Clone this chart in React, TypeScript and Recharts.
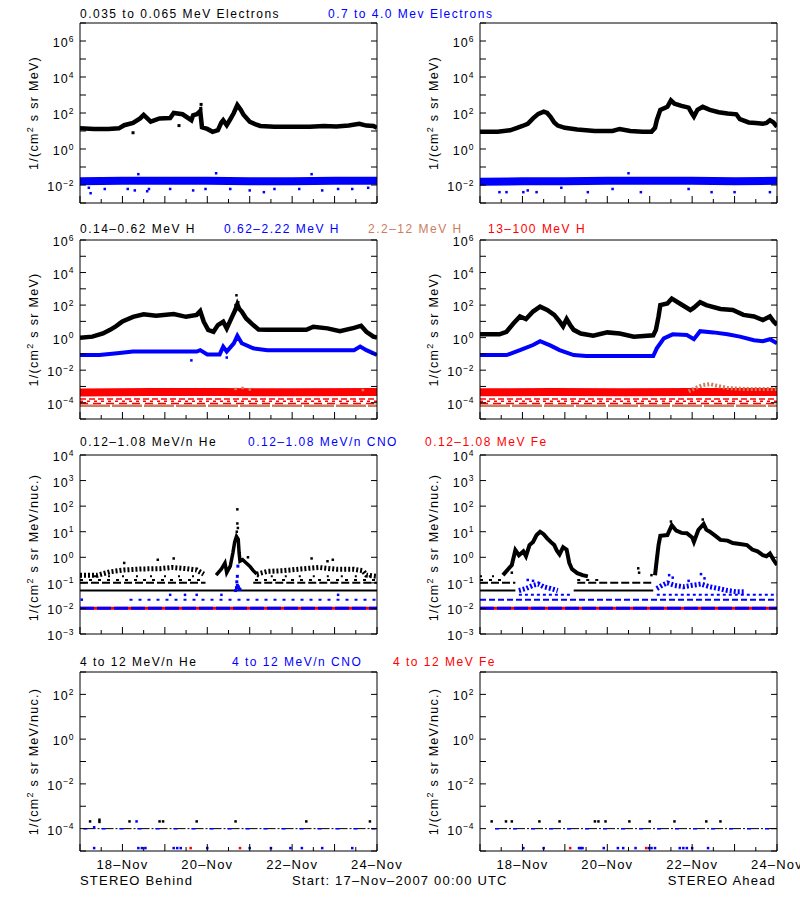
import React from "react";
import { ComposedChart, Line, Scatter, XAxis, YAxis } from "recharts";

type P = [number, number | null][];

// time axis, hours since 17-Nov-2007 00:00 UTC
const hourTicks = [0, 12, 24, 36, 48, 60, 72, 84, 96, 108, 120, 132, 144, 156, 168];
const dayHours = [24, 72, 120, 168];
const dayNames = ["18–Nov", "20–Nov", "22–Nov", "24–Nov"];

// rows: plot top, plot height, decade range, label step
const rowTops = [23, 240, 455, 672];
const rowHeights = [180, 179, 179, 179];
const rowExps: [number, number][] = [[-3, 7], [-5, 6], [-3, 4], [-5, 3]];
const rowLabelStep = [2, 2, 1, 2];
const rowUnits = ["MeV)", "MeV)", "MeV/nuc.)", "MeV/nuc.)"];
const rowUnitShift = [0, 0, 3, 0];

const BLK = "#000000";
const BLU = "#0000ff";
const RED = "#ff0000";
const ROSY = "#cc7d5e";
const FONT = "'Liberation Sans', Arial, sans-serif";

const titles: [number, string, string][][] = [
  [[80, BLK, "0.035 to 0.065 MeV Electrons"], [328, BLU, "0.7 to 4.0 Mev Electrons"]],
  [[80, BLK, "0.14–0.62 MeV H"], [224, BLU, "0.62–2.22 MeV H"], [368, ROSY, "2.2–12 MeV H"], [488, RED, "13–100 MeV H"]],
  [[80, BLK, "0.12–1.08 MeV/n He"], [248, BLU, "0.12–1.08 MeV/n CNO"], [425, RED, "0.12–1.08 MeV Fe"]],
  [[80, BLK, "4 to 12 MeV/n He"], [232, BLU, "4 to 12 MeV/n CNO"], [393, RED, "4 to 12 MeV Fe"]],
];
const titleBase = [18, 233, 446, 666];

// ---- row 1: electrons
const behindLoE: P = [[0, 14], [8, 13], [16, 13], [22, 14], [25, 21], [30, 28], [34, 50], [36, 78], [40, 33], [45, 50], [51, 52], [53, 100], [58, 85], [63, 40], [64, 75], [66, 85], [68, 130], [69, 16], [72, 13], [75, 9], [78, 11], [80, 30], [81, 40], [83, 21], [85, 45], [87, 100], [89, 280], [91, 150], [92.5, 80], [96, 33], [99, 24], [102, 19], [110, 17], [120, 17], [130, 17], [138, 19], [145, 18], [152, 20], [158, 25], [162, 20], [166, 19], [168, 15]];
const behindLoEOut: P = [[68.5, 300], [68.3, 180], [56, 20], [30, 8]];
const behindHiE: P = [[0, 0.016], [24, 0.017], [48, 0.017], [72, 0.017], [96, 0.016], [120, 0.016], [144, 0.017], [168, 0.017]];
const behindHiEOut: P = [[5, 0.007], [6, 0.0035], [14, 0.006], [27, 0.006], [31, 0.005], [38, 0.0045], [39, 0.006], [51, 0.006], [64, 0.005], [71, 0.006], [85, 0.006], [96, 0.005], [104, 0.004], [110, 0.006], [124, 0.006], [137, 0.005], [146, 0.006], [154, 0.006], [163, 0.007], [33, 0.04], [77, 0.045], [131, 0.04]];

const aheadLoE: P = [[0, 9], [10, 9], [17, 11], [21, 15], [24, 19], [27, 25], [30, 50], [33, 90], [36, 120], [38, 100], [40, 60], [42, 30], [44, 20], [48, 15], [55, 12], [65, 10], [75, 10], [79, 13], [85, 10], [92, 9], [97, 9], [99, 15], [100, 40], [102, 150], [106, 220], [108, 500], [110, 330], [114, 250], [118, 200], [120, 90], [121, 63], [123, 150], [126, 220], [130, 150], [135, 110], [140, 95], [145, 85], [147, 45], [152, 30], [156, 28], [160, 25], [162, 28], [164, 40], [166, 30], [168, 17]];
const aheadHiE: P = [[0, 0.015], [24, 0.016], [48, 0.016], [72, 0.017], [96, 0.017], [120, 0.017], [144, 0.016], [168, 0.017]];
const aheadHiEOut: P = [[11, 0.004], [15, 0.004], [24.5, 0.004], [27, 0.005], [32, 0.004], [46, 0.007], [61, 0.004], [75, 0.006], [91, 0.004], [118, 0.006], [131, 0.004], [144, 0.004], [164, 0.004], [84, 0.045]];

// ---- row 2: protons
const behindH1: P = [[0, 1.0], [7, 1.15], [13, 1.8], [17, 3], [20, 4.7], [22.5, 7.5], [24, 10], [30, 19], [36, 27], [43, 22], [53, 28], [60, 19], [66, 25], [68, 43], [70, 9.5], [72.5, 3], [75.5, 2.3], [78, 5.9], [81, 9.5], [83, 3.7], [86, 19], [88, 55], [89, 110], [90, 60], [91.5, 40], [94, 15], [98, 5.9], [101, 3.2], [106, 3], [118, 3], [128, 3], [132, 4.7], [140, 3.7], [147, 2.5], [155, 4], [159, 5.4], [162, 2.3], [166, 1.15], [168, 1.0]];
const behindH1Out: P = [[88.5, 400], [88, 100], [89.5, 150]];
const behindH2: P = [[0, 0.085], [11, 0.085], [21, 0.11], [30, 0.14], [49, 0.14], [66, 0.14], [68, 0.17], [72, 0.093], [79, 0.093], [81, 0.28], [83, 0.14], [87, 0.45], [89, 1.3], [91.5, 0.45], [98, 0.22], [106, 0.17], [130, 0.17], [155, 0.17], [158.5, 0.28], [162, 0.17], [168, 0.085]];
const behindH2Out: P = [[63, 0.04], [83, 0.06]];
const behindH13: P = [[0, 4.3e-4], [40, 4.6e-4], [80, 4.5e-4], [120, 4.4e-4], [168, 4.6e-4]];
const behindH13Low: P = [[0, 1.7e-4], [168, 1.7e-4]];
const behindH13Low2: P = [[0, 1.25e-4], [168, 1.25e-4]];
const behindH13Low3: P = [[0, 9e-5], [168, 9e-5]];
const behindH22: P = [[0, 6.6e-5], [168, 6.6e-5]];
const behindH22Out: P = [[88, 7e-4], [92, 8e-4], [96, 6.5e-4], [160, 6e-4]];

const aheadH1: P = [[0, 1.6], [11, 1.6], [15, 2.3], [19, 7.6], [22.6, 20], [26, 14], [30, 40], [34, 80], [38, 50], [42, 25], [45, 10], [47, 5], [49, 14], [51, 6], [53, 3], [57, 1.8], [64, 1.3], [72, 2.1], [79, 1.8], [87, 1.15], [98, 1.4], [99.5, 3], [101, 20], [102, 100], [106, 125], [108.5, 250], [113, 125], [119, 50], [121, 70], [124.5, 150], [128, 100], [136, 58], [143, 50], [149, 25], [155, 20], [160, 12], [164, 20], [166, 10], [168, 6]];
const aheadH2: P = [[0, 0.085], [15, 0.085], [22.6, 0.17], [30, 0.35], [34, 0.6], [40, 0.32], [45, 0.17], [53, 0.085], [60, 0.074], [98, 0.074], [100, 0.22], [104, 0.9], [109, 1.6], [117, 1.45], [121, 0.8], [124.5, 2.5], [132, 2.1], [140, 1.6], [147, 1.15], [155, 0.7], [160, 0.6], [164, 0.8], [168, 0.45]];
const aheadH13: P = [[0, 4.4e-4], [40, 4.5e-4], [80, 4.4e-4], [120, 4.6e-4], [168, 4.6e-4]];
const aheadH22: P = [[118, 5e-4], [122, 8e-4], [126, 1.2e-3], [130, 1.4e-3], [134, 1.1e-3], [140, 8e-4], [150, 7e-4], [160, 7e-4], [168, 7e-4]];

// ---- row 3: 0.12-1.08 MeV/n ions
const behindHe05: P = [[0, 0.05], [168, 0.05]];
const behindHe10: P = [[0, 0.1], [71, 0.1], [72, null], [98, 0.1], [168, 0.1]];
const behindHe13: P = [[0, 0.13], [70, 0.13], [71, null], [99, 0.13], [168, 0.13]];
const behindHe18: P = [[0, 0.18], [68, 0.18], [69, null], [100, 0.18], [168, 0.18]];
const behindHeCloud: P = [[0, 0.2], [10, 0.2], [17, 0.27], [25, 0.32], [35, 0.35], [45, 0.36], [52, 0.4], [60, 0.36], [66, 0.32], [70, 0.22], [71, null], [100, 0.22], [106, 0.28], [115, 0.3], [125, 0.35], [135, 0.4], [145, 0.34], [155, 0.34], [160, 0.3], [162, 0.2], [168, 0.18]];
const behindHeEvent: P = [[77, 0.2], [80, 0.35], [82, 0.6], [83, 0.25], [85, 0.45], [86.5, 1.5], [87.5, 4], [88.5, 6.5], [89.5, 5], [90, 1.5], [90.5, 0.7], [92, 0.8], [94, 0.6], [96, 0.45], [98, 0.3], [100, 0.22]];
const behindHeOut: P = [[89, 75], [89, 21], [89.3, 14], [88.7, 10], [95, 1], [25, 0.6], [44, 0.8], [53, 0.9], [131, 0.9], [143, 0.8], [140, 0.7]];
const behindCno022: P = [[28, 0.022], [168, 0.022]];
const behindCno034: P = [[1, 0.022], [51, 0.034], [59.4, 0.034], [66, 0.034], [80, 0.034], [146, 0.034]];
const behindCnoSpike: P = [[88, 0.05], [88.5, 0.065], [89, 0.08], [89.3, 0.45], [89, 0.18], [90, 0.06], [88.7, 0.11], [89.6, 0.07], [90.5, 0.055]];
const behindCnoFloor: P = [[0, 0.0102], [168, 0.0102]];
const behindFeFloor: P = [[0, 0.0102], [168, 0.0102]];

const aheadHe05: P = [[0, 0.05], [20, 0.05], [21, null], [53, 0.05], [98, 0.05]];
const aheadHe10: P = [[0, 0.1], [20, 0.1], [21, null], [55, 0.1], [98, 0.1]];
const aheadHe13: P = [[0, 0.13], [15, 0.13], [16, null], [55, 0.13], [68, 0.13]];
const aheadHe18: P = [[0, 0.18], [12, 0.18]];
const aheadHeEvent: P = [[13, 0.2], [16, 0.35], [18, 0.5], [20, 1.9], [22, 1.2], [24.5, 1.7], [26, 1.1], [28, 3], [30, 4], [32, 7.4], [34, 10], [36, 8], [38, 5.5], [40, 4], [42, 3], [43.5, 1.8], [45, 1.3], [47, 2.5], [49, 2], [50.5, 0.6], [52, 0.35], [55, 0.24], [58, 0.2], [61, 0.18], [62, null], [99, 0.2], [100, 0.8], [101, 3], [102, 6.9], [106, 7.4], [108.5, 18], [111, 11], [114, 9], [117, 8.7], [120, 6], [121, 4], [123.5, 11.7], [126.5, 20], [128, 12], [130, 10], [133, 7], [136, 4.8], [140, 4.5], [143, 3.6], [147, 3.3], [151, 3], [154, 2], [157, 1.7], [160, 1.2], [162, 1.1], [164, 1.4], [166, 0.8], [168, 0.5]];
const aheadHeOut: P = [[89.5, 0.37], [90, 0.25], [97, 0.2], [18, 0.25], [53, 0.3], [108, 25], [126, 30]];
const aheadCno034: P = [[22, 0.034], [52, 0.034], [53, null], [100, 0.034], [168, 0.034]];
const aheadCno022: P = [[0, 0.022], [168, 0.022]];
const aheadCnoCloud: P = [[22, 0.05], [26, 0.06], [30, 0.08], [33, 0.09], [36, 0.07], [40, 0.06], [44, 0.05], [45, null], [100, 0.06], [103, 0.08], [106, 0.1], [110, 0.08], [115, 0.07], [120, 0.08], [125, 0.09], [130, 0.07], [135, 0.06], [140, 0.05], [145, 0.045], [150, 0.045]];
const aheadCnoOut: P = [[27, 0.13], [30, 0.12], [107, 0.2], [109, 0.16], [125, 0.22], [127, 0.15], [118, 0.12]];
const aheadCnoFloor: P = [[0, 0.0102], [168, 0.0102]];
const aheadFeFloor: P = [[0, 0.0102], [168, 0.0102]];

// ---- row 4: 4-12 MeV/n ions
const behindLevel4: P = [[2, 1e-4], [168, 1e-4]];
const behindHe4: P = [[5.7, 2.1e-4], [11, 2.5e-4], [11, 2e-4], [28, 2.1e-4], [45, 2.1e-4], [47, 2.1e-4], [66, 2.1e-4], [88, 2.1e-4], [128, 2.1e-4], [164, 2.1e-4]];
const behindCno4: P = [[32, 2.1e-4], [8, 1.15e-4], [8, 1.35e-5], [33, 1.35e-5], [35, 1.35e-5], [37, 1.35e-5], [53, 1.35e-5], [55, 1.35e-5], [57, 1.35e-5], [72, 1.35e-5], [96, 1.35e-5], [108, 1.35e-5], [119, 1.35e-5], [125.5, 1.35e-5], [137, 1.35e-5], [154, 1.35e-5]];
const behindFe4: P = [[62.6, 1.35e-5], [90.5, 1.35e-5]];
const aheadLevel4: P = [[8.5, 1e-4], [168, 1e-4]];
const aheadHe4: P = [[6.6, 2.1e-4], [14.7, 2.1e-4], [18, 2.1e-4], [33.6, 2.1e-4], [45, 2.1e-4], [65, 2.1e-4], [67, 2.1e-4], [71, 2.1e-4], [84.5, 2.1e-4], [96, 2.1e-4], [110, 2.1e-4], [128, 2.1e-4], [136, 2.1e-4]];
const aheadCno4: P = [[24.5, 1.35e-5], [36, 1.35e-5], [56, 1.35e-5], [57, 1.35e-5], [58, 1.35e-5], [70, 1.35e-5], [78, 1.35e-5], [81, 1.35e-5], [88, 1.35e-5], [95.5, 1.35e-5], [97, 1.35e-5], [99, 1.35e-5], [113, 1.35e-5], [115, 1.35e-5], [117, 1.35e-5], [120, 1.35e-5], [129, 1.35e-5]];
const aheadFe4: P = [[51, 1.35e-5], [94, 1.35e-5]];

type S = { d: P; c: string; w?: number; dash?: string; dot?: number };
const ln = (d: P, c: string, w = 4.5, dash?: string): S => ({ d, c, w, dash });
const dt = (d: P, c: string, dot = 2.5): S => ({ d, c, dot });

const panels: S[][][] = [
  [
    [ln(behindHiE, BLU, 8), dt(behindHiEOut, BLU), ln(behindLoE, BLK), dt(behindLoEOut, BLK, 3)],
    [ln(aheadHiE, BLU, 8), dt(aheadHiEOut, BLU), ln(aheadLoE, BLK)],
  ],
  [
    [ln(behindH22, ROSY, 2.5, "30 2"), ln(behindH13Low3, RED, 1.5, "8 5"), ln(behindH13Low2, RED, 1.5, "3 4"), ln(behindH13Low, RED, 1.5, "6 3"), ln(behindH13, RED, 8), dt(behindH22Out, ROSY), ln(behindH2, BLU, 4), dt(behindH2Out, BLU), ln(behindH1, BLK), dt(behindH1Out, BLK)],
    [ln(behindH22, ROSY, 2.5, "30 2"), ln(behindH13Low3, RED, 1.5, "8 5"), ln(behindH13Low2, RED, 1.5, "3 4"), ln(behindH13Low, RED, 1.5, "6 3"), ln(aheadH13, RED, 8), ln(aheadH22, ROSY, 4, "2 2"), ln(aheadH2, BLU, 4), ln(aheadH1, BLK)],
  ],
  [
    [ln(behindFeFloor, RED, 3), ln(behindCnoFloor, BLU, 3, "14 3"), ln(behindCno022, BLU, 2, "3 6"), dt(behindCno034, BLU), ln(behindHe05, BLK, 2), ln(behindHe10, BLK, 2, "8 3"), ln(behindHe13, BLK, 2, "3 6"), ln(behindHe18, BLK, 2, "2 12"), ln(behindHeCloud, BLK, 5, "2 2"), ln(behindHeEvent, BLK, 3.5), dt(behindHeOut, BLK), dt(behindCnoSpike, BLU, 3)],
    [ln(aheadFeFloor, RED, 3), ln(aheadCnoFloor, BLU, 3, "14 3"), ln(aheadCno022, BLU, 2, "6 3"), ln(aheadCno034, BLU, 2, "3 3"), ln(aheadHe05, BLK, 2), ln(aheadHe10, BLK, 2, "8 3"), ln(aheadHe13, BLK, 2, "3 6"), ln(aheadHe18, BLK, 2, "2 10"), ln(aheadCnoCloud, BLU, 5, "2 2"), dt(aheadCnoOut, BLU), ln(aheadHeEvent, BLK, 4), dt(aheadHeOut, BLK)],
  ],
  [
    [ln(behindLevel4, BLK, 1, "12 2 2 2"), ln(behindLevel4, BLU, 1.5, "4 14"), dt(behindHe4, BLK), dt(behindCno4, BLU), dt(behindFe4, RED)],
    [ln(aheadLevel4, BLK, 1, "12 2 2 2"), ln(aheadLevel4, BLU, 1.5, "4 14"), dt(aheadHe4, BLK), dt(aheadCno4, BLU), dt(aheadFe4, RED)],
  ],
];

const rows = (d: P) => d.map(([h, v]) => ({ h, v }));
const expText = (e: number) => (e < 0 ? "−" + -e : String(e));

function Panel({ col, row }: { col: number; row: number }) {
  const [lo, hi] = rowExps[row];
  const step = rowLabelStep[row];
  const yTicks: number[] = [];
  for (let e = lo; e <= hi; e++) yTicks.push(10 ** e);
  const showDays = row === 3;
  const H = rowHeights[row];
  const tickLen = (h: number) => (h % 24 === 0 ? 7 : 4);

  return (
    <div style={{ position: "absolute", left: col * 400, top: rowTops[row] - 10 }}>
      <ComposedChart width={400} height={H + 40} margin={{ top: 9, right: 22, bottom: 29, left: 40 }}>
        <XAxis
          xAxisId="b" type="number" dataKey="h" domain={[0, 168]} ticks={hourTicks} interval={0}
          allowDataOverflow height={1} tickSize={0} tickMargin={0} tickLine={false}
          axisLine={{ stroke: BLK }}
          tick={(p: any) => {
            const i = dayHours.indexOf(p.payload.value);
            return (
              <g>
                <line x1={p.x} x2={p.x} y1={p.y} y2={p.y - tickLen(p.payload.value)} stroke={BLK} />
                {showDays && i >= 0 && (
                  <text x={p.x} y={p.y + 18} textAnchor="middle" fontSize={13} letterSpacing={1.2} fontFamily={FONT} fill={BLK}>
                    {dayNames[i]}
                  </text>
                )}
              </g>
            );
          }}
        />
        <XAxis
          xAxisId="t" orientation="top" type="number" domain={[0, 168]} ticks={hourTicks} interval={0}
          allowDataOverflow height={1} tickSize={0} tickMargin={0} tickLine={false}
          axisLine={{ stroke: BLK }}
          tick={(p: any) => (
            <line x1={p.x} x2={p.x} y1={p.y} y2={p.y + tickLen(p.payload.value)} stroke={BLK} />
          )}
        />
        <YAxis
          yAxisId="l" type="number" dataKey="v" scale="log" domain={[10 ** lo, 10 ** hi]} ticks={yTicks}
          interval={0} allowDataOverflow width={40} tickSize={0} tickMargin={0} tickLine={false}
          axisLine={{ stroke: BLK }}
          tick={(p: any) => {
            const e = Math.round(Math.log10(p.payload.value));
            return (
              <g>
                <line x1={p.x} x2={p.x + 6} y1={p.y} y2={p.y} stroke={BLK} />
                {e % step === 0 && (
                  <text x={p.x - 6} y={p.y + 6} textAnchor="end" fontSize={12.5} letterSpacing={1.1} fontFamily={FONT} fill={BLK}>
                    10<tspan dy={-5.5} fontSize={8.5} letterSpacing={0.5}>{expText(e)}</tspan>
                  </text>
                )}
              </g>
            );
          }}
        />
        <YAxis
          yAxisId="r" orientation="right" type="number" scale="log" domain={[10 ** lo, 10 ** hi]} ticks={yTicks}
          interval={0} allowDataOverflow width={1} tickSize={0} tickMargin={0} tickLine={false}
          axisLine={{ stroke: BLK }}
          tick={(p: any) => <line x1={p.x} x2={p.x - 6} y1={p.y} y2={p.y} stroke={BLK} />}
        />
        {panels[row][col].map((s, i) =>
          s.dot ? (
            <Scatter
              key={i} xAxisId="b" yAxisId="l" data={rows(s.d)} dataKey="v" fill={s.c} isAnimationActive={false}
              shape={(p: any) => (
                <rect x={p.cx - s.dot! / 2} y={p.cy - s.dot! / 2} width={s.dot} height={s.dot} fill={s.c} />
              )}
            />
          ) : (
            <Line
              key={i} xAxisId="b" yAxisId="l" data={rows(s.d)} dataKey="v" type="linear" stroke={s.c}
              strokeWidth={s.w} strokeDasharray={s.dash} dot={false} activeDot={false}
              connectNulls={false} isAnimationActive={false}
            />
          )
        )}
      </ComposedChart>
    </div>
  );
}

export default function App() {
  return (
    <div style={{ position: "absolute", left: 0, top: 0, width: 800, height: 900, background: "#fff", overflow: "hidden" }}>
      <style>{`.recharts-surface{overflow:visible}`}</style>
      {[0, 1, 2, 3].map((r) => [0, 1].map((c) => <Panel key={`${r}-${c}`} col={c} row={r} />))}
      <svg width={800} height={900} style={{ position: "absolute", left: 0, top: 0, pointerEvents: "none" }} fontFamily={FONT}>
        {titles.map((items, r) =>
          items.map(([x, c, t], i) => (
            <text key={`${r}-${i}`} x={x} y={titleBase[r]} fill={c} fontSize={12} letterSpacing={1.5}>{t}</text>
          ))
        )}
        {[0, 1, 2, 3].map((r) =>
          [38, 438].map((x) => (
            <text
              key={`${r}-${x}`} fontSize={12.5} letterSpacing={1.3} textAnchor="middle" fill={BLK}
              transform={`translate(${x}, ${rowTops[r] + rowHeights[r] / 2 + rowUnitShift[r]}) rotate(-90)`}
            >
              1/(cm<tspan dy={-5} fontSize={9}>2</tspan><tspan dy={5}> s sr {rowUnits[r]}</tspan>
            </text>
          ))
        )}
        <text x={80} y={885} fontSize={13} letterSpacing={1.2} fill={BLK}>STEREO Behind</text>
        <text x={292} y={885} fontSize={13} letterSpacing={1.2} fill={BLK}>Start: 17–Nov–2007 00:00 UTC</text>
        <text x={776} y={885} fontSize={13} letterSpacing={1.2} textAnchor="end" fill={BLK}>STEREO Ahead</text>
      </svg>
    </div>
  );
}
